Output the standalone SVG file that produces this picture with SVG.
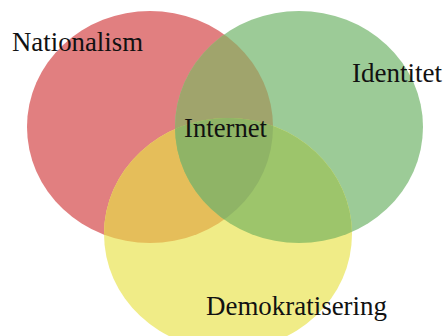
<svg xmlns="http://www.w3.org/2000/svg" width="446" height="336" viewBox="0 0 446 336">
<style>
text{font-family:"Liberation Serif","Times New Roman",serif;font-size:27px;fill:#111}
</style>
<defs>
<clipPath id="cR"><ellipse cx="150" cy="127" rx="123" ry="116"/></clipPath>
<clipPath id="cG"><ellipse cx="299" cy="127" rx="124" ry="116"/></clipPath>
<clipPath id="cY"><ellipse cx="228" cy="234" rx="124" ry="116"/></clipPath>
</defs>
<rect width="446" height="336" fill="#fff"/>
<g id="nationalism">
<ellipse cx="150" cy="127" rx="123" ry="116" fill="#e17f80"/>
</g>
<g id="identitet">
<ellipse cx="299" cy="127" rx="124" ry="116" fill="#9ccb97"/>
</g>
<g id="demokratisering">
<ellipse cx="228" cy="234" rx="124" ry="116" fill="#f0ec87"/>
</g>
<g id="overlaps">
<g clip-path="url(#cR)"><ellipse cx="299" cy="127" rx="124" ry="116" fill="#a0a46c"/></g>
<g clip-path="url(#cR)"><ellipse cx="228" cy="234" rx="124" ry="116" fill="#e5be5a"/></g>
<g clip-path="url(#cG)"><ellipse cx="228" cy="234" rx="124" ry="116" fill="#9dc56b"/></g>
<g clip-path="url(#cR)"><g clip-path="url(#cG)"><ellipse cx="228" cy="234" rx="124" ry="116" fill="#8fb466"/></g></g>
</g>
<g id="labels">
<text x="12" y="51" textLength="131" lengthAdjust="spacingAndGlyphs">Nationalism</text>
<text x="352" y="82" textLength="90" lengthAdjust="spacingAndGlyphs">Identitet</text>
<text x="184" y="137" textLength="83" lengthAdjust="spacingAndGlyphs">Internet</text>
<text x="206" y="315" textLength="181" lengthAdjust="spacingAndGlyphs">Demokratisering</text>
</g>
<g id="connectors"/>
</svg>
